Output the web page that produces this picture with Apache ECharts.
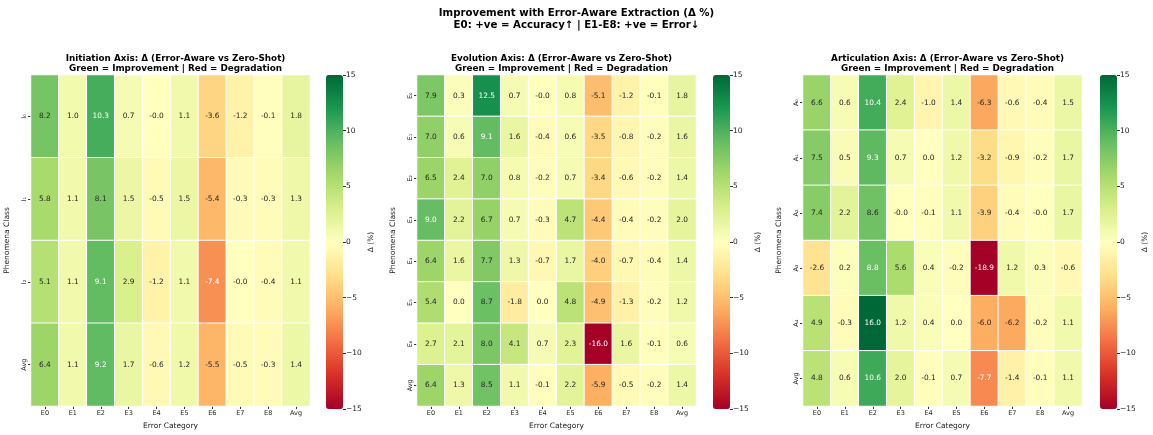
<!DOCTYPE html>
<html>
<head>
<meta charset="utf-8">
<script src="https://cdn.jsdelivr.net/npm/echarts@6/dist/echarts.min.js"></script>
<style>
  html, body { margin: 0; padding: 0; background: #fff; }
  #chart { width: 1153px; height: 435px; }
</style>
</head>
<body>
<div id="chart"></div>
<script>
var errorCats = ['E0', 'E1', 'E2', 'E3', 'E4', 'E5', 'E6', 'E7', 'E8', 'Avg'];

var initRows = ['I\u2080', 'I\u2081', 'I\u2082', 'Avg'];
var initVals = [
  [8.2, 1.0, 10.3, 0.7, -0.03, 1.1, -3.6, -1.2, -0.1, 1.8],
  [5.8, 1.1, 8.1, 1.5, -0.5, 1.5, -5.4, -0.3, -0.3, 1.3],
  [5.1, 1.1, 9.1, 2.9, -1.2, 1.1, -7.4, -0.03, -0.4, 1.1],
  [6.4, 1.1, 9.2, 1.7, -0.6, 1.2, -5.5, -0.5, -0.3, 1.4]
];

var evoRows = ['E\u2080', 'E\u2081', 'E\u2082', 'E\u2083', 'E\u2084', 'E\u2085', 'E\u2086', 'Avg'];
var evoVals = [
  [7.9, 0.3, 12.5, 0.7, -0.03, 0.8, -5.1, -1.2, -0.1, 1.8],
  [7.0, 0.6, 9.1, 1.6, -0.4, 0.6, -3.5, -0.8, -0.2, 1.6],
  [6.5, 2.4, 7.0, 0.8, -0.2, 0.7, -3.4, -0.6, -0.2, 1.4],
  [9.0, 2.2, 6.7, 0.7, -0.3, 4.7, -4.4, -0.4, -0.2, 2.0],
  [6.4, 1.6, 7.7, 1.3, -0.7, 1.7, -4.0, -0.7, -0.4, 1.4],
  [5.4, 0.0, 8.7, -1.8, 0.0, 4.8, -4.9, -1.3, -0.2, 1.2],
  [2.7, 2.1, 8.0, 4.1, 0.7, 2.3, -16.0, 1.6, -0.1, 0.6],
  [6.4, 1.3, 8.5, 1.1, -0.1, 2.2, -5.9, -0.5, -0.2, 1.4]
];

var artRows = ['A\u2080', 'A\u2081', 'A\u2082', 'A\u2083', 'A\u2084', 'Avg'];
var artVals = [
  [6.6, 0.6, 10.4, 2.4, -1.0, 1.4, -6.3, -0.6, -0.4, 1.5],
  [7.5, 0.5, 9.3, 0.7, 0.0, 1.2, -3.2, -0.9, -0.2, 1.7],
  [7.4, 2.2, 8.6, -0.03, -0.1, 1.1, -3.9, -0.4, -0.03, 1.7],
  [-2.6, 0.2, 8.8, 5.6, 0.4, -0.2, -18.9, 1.2, 0.3, -0.6],
  [4.9, -0.3, 16.0, 1.2, 0.4, 0.0, -6.0, -6.2, -0.2, 1.1],
  [4.8, 0.6, 10.6, 2.0, -0.1, 0.7, -7.7, -1.4, -0.1, 1.1]
];

var panelTitles = [
  'Initiation Axis: \u0394 (Error-Aware vs Zero-Shot)\nGreen = Improvement | Red = Degradation',
  'Evolution Axis: \u0394 (Error-Aware vs Zero-Shot)\nGreen = Improvement | Red = Degradation',
  'Articulation Axis: \u0394 (Error-Aware vs Zero-Shot)\nGreen = Improvement | Red = Degradation'
];

var rdylgn = ['#a50026', '#d73027', '#f46d43', '#fdae61', '#fee08b', '#ffffbf',
              '#d9ef8b', '#a6d96a', '#66bd63', '#1a9850', '#006837'];

var FONT = 'DejaVu Sans';
var panels = [
  {rows: initRows, vals: initVals, left: 31, cbLeft: 326},
  {rows: evoRows, vals: evoVals, left: 417, cbLeft: 713},
  {rows: artRows, vals: artVals, left: 803, cbLeft: 1100}
];
var TOP = 75, H = 334, W = 279, CBW = 17;

var grids = [], xAxes = [], yAxes = [], series = [], visualMaps = [], titles = [];

titles.push({
  text: 'Improvement with Error-Aware Extraction (\u0394 %)\nE0: +ve = Accuracy\u2191 | E1-E8: +ve = Error\u2193',
  left: 'center', top: 2,
  textStyle: {fontFamily: FONT, fontSize: 10.2, fontWeight: 'bold', color: '#000', lineHeight: 12}
});

panels.forEach(function (p, i) {
  titles.push({
    text: panelTitles[i],
    left: p.left + W / 2, top: 49, textAlign: 'center',
    textStyle: {fontFamily: FONT, fontSize: 8.8, fontWeight: 'bold', color: '#000', lineHeight: 10}
  });

  // heatmap grid
  grids.push({left: p.left, top: TOP, width: W, height: H});
  xAxes.push({
    type: 'category', gridIndex: 2 * i, data: errorCats,
    name: 'Error Category', nameLocation: 'middle', nameGap: 16,
    nameTextStyle: {fontFamily: FONT, fontSize: 7.5, color: '#222'},
    axisLine: {show: false}, splitLine: {show: false},
    axisTick: {show: true, length: 3, alignWithLabel: true, lineStyle: {color: '#333'}},
    axisLabel: {fontFamily: FONT, fontSize: 6.5, color: '#222', margin: 4}
  });
  yAxes.push({
    type: 'category', gridIndex: 2 * i, data: p.rows, inverse: true,
    name: 'Phenomena Class', nameLocation: 'middle', nameGap: 20,
    nameTextStyle: {fontFamily: FONT, fontSize: 7.5, color: '#222'},
    axisLine: {show: false}, splitLine: {show: false},
    axisTick: {show: true, length: 3, alignWithLabel: true, lineStyle: {color: '#333'}},
    axisLabel: {fontFamily: FONT, fontSize: 6.5, color: '#222', margin: 3, rotate: 90}
  });

  // colorbar axis grid
  grids.push({left: p.cbLeft, top: TOP, width: CBW, height: H});
  xAxes.push({type: 'category', gridIndex: 2 * i + 1, data: [''], show: false});
  yAxes.push({
    type: 'value', gridIndex: 2 * i + 1, position: 'right',
    min: -15, max: 15, interval: 5,
    name: '\u0394 (%)', nameLocation: 'middle', nameRotate: 90, nameGap: 24,
    nameTextStyle: {fontFamily: FONT, fontSize: 7.5, color: '#222'},
    axisLine: {show: false}, splitLine: {show: false},
    axisTick: {show: true, length: 3, lineStyle: {color: '#333'}},
    axisLabel: {fontFamily: FONT, fontSize: 7.5, color: '#222', margin: 3,
      formatter: function (v) { return String(v).replace('-', '\u2212'); }}
  });

  var data = [];
  p.vals.forEach(function (row, r) {
    row.forEach(function (v, c) {
      var light = v >= 8.75 || v <= -7;
      data.push({value: [c, r, v], label: {color: light ? '#ffffff' : '#262626'}});
    });
  });
  series.push({
    type: 'heatmap', xAxisIndex: 2 * i, yAxisIndex: 2 * i, data: data,
    itemStyle: {borderColor: '#ffffff', borderWidth: 1},
    label: {show: true, fontFamily: FONT, fontSize: 7.4,
      formatter: function (d) { return d.value[2].toFixed(1); }},
    emphasis: {disabled: true}
  });

  visualMaps.push({
    type: 'continuous', seriesIndex: i, min: -15, max: 15,
    left: p.cbLeft, top: TOP, itemWidth: CBW, itemHeight: H,
    padding: 0, calculable: false, hoverLink: false,
    inRange: {color: rdylgn}
  });
});

var chart = echarts.init(document.getElementById('chart'), null, {renderer: 'canvas'});
chart.setOption({
  backgroundColor: '#ffffff',
  animation: false,
  title: titles,
  grid: grids,
  xAxis: xAxes,
  yAxis: yAxes,
  visualMap: visualMaps,
  series: series
});
</script>
</body>
</html>
